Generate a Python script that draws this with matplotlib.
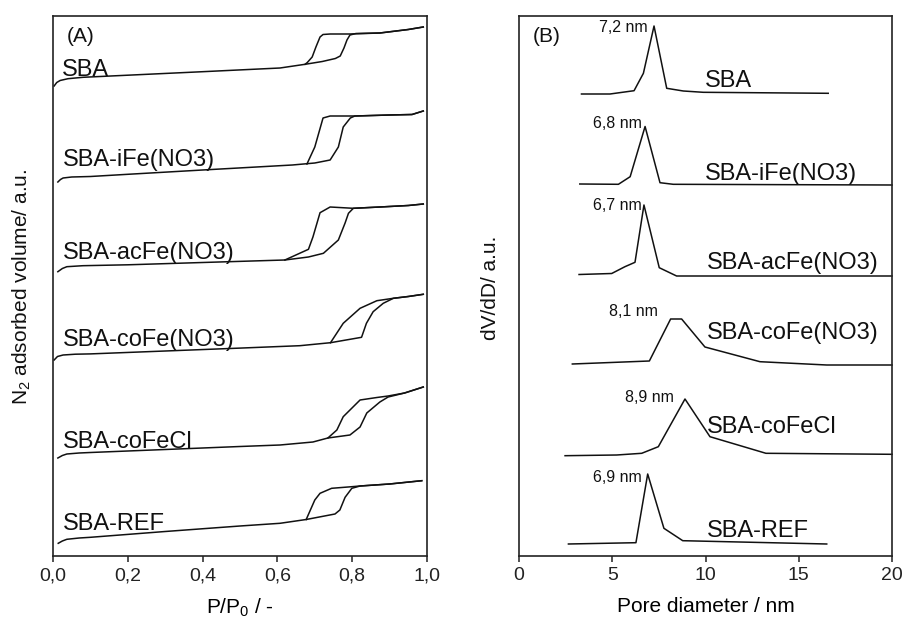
import matplotlib
matplotlib.use("Agg")
import matplotlib.pyplot as plt
from matplotlib.ticker import FuncFormatter, FixedLocator

plt.rcParams['font.family'] = ['Liberation Sans', 'DejaVu Sans']
plt.rcParams['mathtext.default'] = 'regular'

# ---------------- Panel A: N2 isotherms (P/P0 vs adsorbed volume, a.u.) ----------------
samples = ["SBA", "SBA-iFe(NO3)", "SBA-acFe(NO3)", "SBA-coFe(NO3)", "SBA-coFeCl", "SBA-REF"]

sba_ads_p = [0.003, 0.01, 0.019, 0.04, 0.08, 0.2, 0.4, 0.607, 0.674, 0.72, 0.755, 0.768, 0.778, 0.786, 0.794, 0.81, 0.874, 0.95, 0.99]
sba_ads_v = [470, 473.5, 475.5, 477.3, 478.7, 480.8, 484.3, 488, 491.7, 494.5, 497.5, 500, 508, 516, 521, 522.5, 523, 526.5, 529]
sba_des_p = [0.99, 0.95, 0.874, 0.794, 0.741, 0.722, 0.714, 0.703, 0.693, 0.68, 0.674]
sba_des_v = [529, 526.5, 523, 522, 522, 521.5, 519, 509, 499, 493.5, 491.7]

ife_ads_p = [0.013, 0.02, 0.027, 0.05, 0.1, 0.2, 0.4, 0.64, 0.70, 0.741, 0.763, 0.776, 0.795, 0.807, 0.9, 0.96, 0.99]
ife_ads_v = [374, 376.5, 378, 379, 379.5, 381.7, 386, 391, 393, 396, 409, 429, 438, 440, 441, 441.5, 445]
ife_des_p = [0.99, 0.96, 0.9, 0.807, 0.741, 0.722, 0.70, 0.679]
ife_des_v = [445, 441.5, 441, 440, 440, 438, 409, 392]

acfe_ads_p = [0.013, 0.025, 0.037, 0.08, 0.2, 0.4, 0.62, 0.683, 0.723, 0.763, 0.781, 0.79, 0.803, 0.874, 0.95, 0.99]
acfe_ads_v = [284.3, 287.5, 289.3, 290.3, 291.2, 293.5, 296, 299, 302.7, 316, 333, 342.7, 347.7, 349, 350.5, 352]
acfe_des_p = [0.99, 0.95, 0.874, 0.803, 0.741, 0.714, 0.695, 0.683, 0.62]
acfe_des_v = [352, 350.5, 349, 347.7, 349, 343.3, 319, 306.7, 296]

cofe_ads_p = [0.003, 0.012, 0.027, 0.06, 0.1, 0.3, 0.5, 0.66, 0.742, 0.825, 0.838, 0.856, 0.883, 0.91, 0.95, 0.99]
cofe_ads_v = [196, 199.5, 201, 201.8, 202.1, 205, 207.9, 210.3, 213.3, 218.7, 232.7, 244.3, 252.7, 257.7, 259.5, 261.7]
cofe_des_p = [0.99, 0.95, 0.91, 0.866, 0.821, 0.776, 0.742]
cofe_des_v = [261.7, 259.5, 257.7, 255.3, 247.7, 232.7, 213.3]

cofecl_ads_p = [0.013, 0.025, 0.037, 0.07, 0.1, 0.3, 0.5, 0.607, 0.695, 0.735, 0.794, 0.821, 0.839, 0.874, 0.896, 0.94, 0.99]
cofecl_ads_v = [98, 100.5, 102, 103, 103.5, 106.5, 109.5, 111, 114, 118, 121, 129, 143, 154, 159, 163, 169]
cofecl_des_p = [0.99, 0.94, 0.896, 0.866, 0.821, 0.776, 0.759, 0.735]
cofecl_des_v = [169, 163, 160, 158.5, 156, 139.3, 126, 118]

ref_ads_p = [0.014, 0.025, 0.037, 0.07, 0.1, 0.3, 0.5, 0.607, 0.677, 0.754, 0.767, 0.781, 0.799, 0.821, 0.9, 0.986]
ref_ads_v = [12.7, 15, 16.7, 18, 18.7, 24.5, 30, 32.7, 36.5, 42, 46, 58.7, 67.7, 70, 72, 75.3]
ref_des_p = [0.986, 0.9, 0.821, 0.799, 0.745, 0.714, 0.70, 0.677]
ref_des_v = [75.3, 72, 70, 69.3, 67.7, 62.7, 56, 36.5]

# label anchor positions (x in P/P0, y in a.u.)
a_label_x = [0.024, 0.027, 0.027, 0.027, 0.027, 0.027]
a_label_y = [480, 390, 297, 210, 108, 26]

# ---------------- Panel B: pore size distributions ----------------
sba_d = [3.35, 4.88, 6.17, 6.67, 7.24, 7.92, 8.81, 9.88, 16.58]
sba_psd = [462, 462, 465.3, 482.7, 530, 467.7, 465, 463.7, 462.7]
ife_d = [3.26, 5.33, 5.96, 6.76, 7.56, 8.27, 20]
ife_psd = [372, 371.7, 379.3, 429.5, 373.3, 371.7, 371]
acfe_d = [3.22, 4.97, 5.68, 6.22, 6.70, 7.52, 8.45, 20]
acfe_psd = [281.5, 282.5, 289.3, 293.7, 351, 288.3, 280, 280]
cofe_d = [2.86, 6.99, 8.13, 8.72, 9.97, 12.92, 16.5, 20]
cofe_psd = [192, 195, 237, 237, 209, 194.3, 191, 191]
cofecl_d = [2.47, 5.24, 6.58, 7.47, 8.90, 10.24, 13.24, 20]
cofecl_psd = [100.3, 101, 102.7, 109.3, 157, 119.3, 102.7, 101.7]
ref_d = [2.65, 6.27, 6.90, 7.77, 8.78, 16.5]
ref_psd = [12, 13.3, 82, 27.7, 15.3, 12]

peak_labels = ["7,2 nm", "6,8 nm", "6,7 nm", "8,1 nm", "8,9 nm", "6,9 nm"]
peak_label_x = [6.92, 6.6, 6.6, 7.45, 8.31, 6.6]
peak_label_y = [528, 432, 351, 245, 159, 79]
b_label_x = [9.97, 9.97, 10.06, 10.06, 10.06, 10.06]
b_label_y = [468.7, 376, 286.7, 216.7, 123.3, 19.3]

# ---------------- Figure ----------------
W, H = 902, 619
fig = plt.figure(figsize=(W / 100, H / 100), dpi=100)
axA = fig.add_axes([53 / W, (H - 556) / H, 374 / W, 540 / H])
axB = fig.add_axes([519 / W, (H - 556) / H, 373 / W, 540 / H])

lc = '#111111'
lw = 1.1

iso = [
    (sba_ads_p, sba_ads_v, sba_des_p, sba_des_v),
    (ife_ads_p, ife_ads_v, ife_des_p, ife_des_v),
    (acfe_ads_p, acfe_ads_v, acfe_des_p, acfe_des_v),
    (cofe_ads_p, cofe_ads_v, cofe_des_p, cofe_des_v),
    (cofecl_ads_p, cofecl_ads_v, cofecl_des_p, cofecl_des_v),
    (ref_ads_p, ref_ads_v, ref_des_p, ref_des_v),
]
for ap, av, dp, dv in iso:
    axA.plot(ap, av, color=lc, lw=lw, solid_joinstyle='round')
    axA.plot(dp, dv, color=lc, lw=lw, solid_joinstyle='round')
for name, x, y in zip(samples, a_label_x, a_label_y):
    axA.text(x, y, name, fontsize=17, ha='left', va='baseline', color=lc)
axA.text(0.037, 520, "(A)", fontsize=15, ha='left', va='center', color=lc)

psd = [(sba_d, sba_psd), (ife_d, ife_psd), (acfe_d, acfe_psd),
       (cofe_d, cofe_psd), (cofecl_d, cofecl_psd), (ref_d, ref_psd)]
for d, v in psd:
    axB.plot(d, v, color=lc, lw=lw, solid_joinstyle='round', clip_on=False)
for t, x, y in zip(peak_labels, peak_label_x, peak_label_y):
    axB.text(x, y, t, fontsize=11.5, ha='right', va='center', color=lc)
for name, x, y in zip(samples, b_label_x, b_label_y):
    axB.text(x, y, name, fontsize=17, ha='left', va='baseline', color=lc)
axB.text(0.75, 520, "(B)", fontsize=15, ha='left', va='center', color=lc)

axA.set_xlim(0, 1.0)
axA.set_ylim(0, 540)
axB.set_xlim(0, 20)
axB.set_ylim(0, 540)

comma = FuncFormatter(lambda v, p: f"{v:.1f}".replace('.', ','))
axA.xaxis.set_major_locator(FixedLocator([0, 0.2, 0.4, 0.6, 0.8, 1.0]))
axA.xaxis.set_major_formatter(comma)
axB.xaxis.set_major_locator(FixedLocator([0, 5, 10, 15, 20]))

for ax in (axA, axB):
    ax.set_yticks([])
    for s in ax.spines.values():
        s.set_linewidth(1.2)
        s.set_color('#222222')
    ax.tick_params(axis='x', direction='out', length=4, width=1.1, labelsize=14,
                   colors='#222222', pad=4)

axA.set_xlabel("P/P$_0$ / -", fontsize=15, labelpad=9)
axB.set_xlabel("Pore diameter / nm", fontsize=15, labelpad=9)

fig.text(22 / W, (H - 287) / H, "N$_2$ adsorbed volume/ a.u.", rotation=90,
         ha='center', va='center', fontsize=15, color=lc)
fig.text(490 / W, (H - 288) / H, "dV/dD/ a.u.", rotation=90,
         ha='center', va='center', fontsize=15, color=lc)

fig.savefig("out.png", dpi=100)
